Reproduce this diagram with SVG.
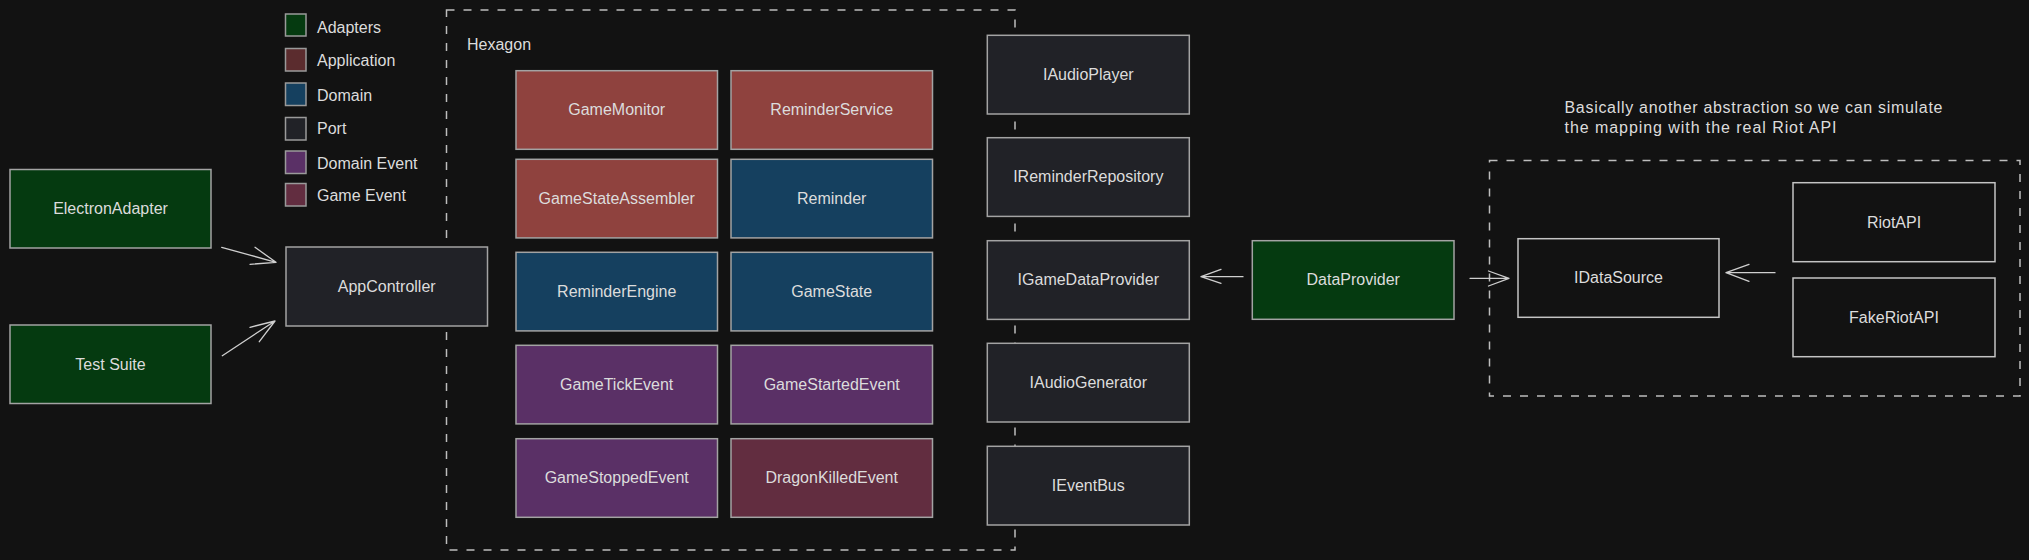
<svg xmlns="http://www.w3.org/2000/svg" width="2029" height="560" viewBox="0 0 2029 560">
<style>
  text { font-family: "Liberation Sans", Arial, sans-serif; font-size: 16px; fill: #dcdcdc; }
  .lbl { text-anchor: middle; }
  .box { stroke: #a3a3a3; stroke-width: 1.5; }
  .adapter { fill: #053a10; }
  .app { fill: #8f423e; }
  .domain { fill: #15405f; }
  .port { fill: #212227; }
  .devent { fill: #5a3066; }
  .gevent { fill: #622d40; }
  .plain { fill: #121212; stroke: #c4c4c4; }
  .sw { stroke: #9a9a9a; stroke-width: 1.5; }
  .dash { fill: none; stroke: #bdbdbd; stroke-width: 1.5; stroke-dasharray: 8 9; }
  .conn { fill: none; stroke: #cfcfcf; stroke-width: 1.3; stroke-linecap: round; stroke-linejoin: round; }
</style>
<rect x="0" y="0" width="2029" height="560" fill="#121212"/>

<g id="legend">
  <rect class="sw adapter" x="285.5" y="14" width="20.5" height="22"/>
  <text x="317" y="32.5">Adapters</text>
  <rect class="sw" fill="#5b2c2e" x="285.5" y="48.5" width="20.5" height="22.5"/>
  <text x="317" y="66">Application</text>
  <rect class="sw domain" x="285.5" y="83" width="20.5" height="22.5"/>
  <text x="317" y="100.5">Domain</text>
  <rect class="sw port" x="285.5" y="117.5" width="20.5" height="22.5"/>
  <text x="317" y="134.3">Port</text>
  <rect class="sw devent" x="285.5" y="151" width="20.5" height="22.5"/>
  <text x="317" y="169">Domain Event</text>
  <rect class="sw gevent" x="285.5" y="183.5" width="20.5" height="22.5"/>
  <text x="317" y="200.7">Game Event</text>
</g>

<g id="hexagon">
  <rect class="dash" x="446.5" y="10" width="568.5" height="540"/>
  <text x="467" y="50">Hexagon</text>
</g>

<g id="datasource-boundary">
  <rect class="dash" x="1489.5" y="160.5" width="530.5" height="235.5"/>
  <text x="1564.5" y="112.7" textLength="378" lengthAdjust="spacing">Basically another abstraction so we can simulate</text>
  <text x="1564.5" y="132.7" textLength="272" lengthAdjust="spacing">the mapping with the real Riot API</text>
</g>

<g id="ElectronAdapter"><rect class="box adapter" x="10" y="169.5" width="201" height="78.5"/><text class="lbl" x="110.5" y="214">ElectronAdapter</text></g>
<g id="TestSuite"><rect class="box adapter" x="10" y="325" width="201" height="78.5"/><text class="lbl" x="110.5" y="369.5">Test Suite</text></g>
<g id="AppController"><rect class="box port" x="286" y="247" width="201.5" height="79"/><text class="lbl" x="386.7" y="291.8">AppController</text></g>

<g id="GameMonitor"><rect class="box app" x="516" y="70.7" width="201.5" height="78.6"/><text class="lbl" x="616.7" y="115.3">GameMonitor</text></g>
<g id="ReminderService"><rect class="box app" x="731" y="70.7" width="201.5" height="78.6"/><text class="lbl" x="831.7" y="115.3">ReminderService</text></g>
<g id="GameStateAssembler"><rect class="box app" x="516" y="159.3" width="201.5" height="78.6"/><text class="lbl" x="616.7" y="203.9">GameStateAssembler</text></g>
<g id="Reminder"><rect class="box domain" x="731" y="159.3" width="201.5" height="78.6"/><text class="lbl" x="831.7" y="203.9">Reminder</text></g>
<g id="ReminderEngine"><rect class="box domain" x="516" y="252.3" width="201.5" height="78.6"/><text class="lbl" x="616.7" y="296.9">ReminderEngine</text></g>
<g id="GameState"><rect class="box domain" x="731" y="252.3" width="201.5" height="78.6"/><text class="lbl" x="831.7" y="296.9">GameState</text></g>
<g id="GameTickEvent"><rect class="box devent" x="516" y="345.3" width="201.5" height="78.6"/><text class="lbl" x="616.7" y="389.9">GameTickEvent</text></g>
<g id="GameStartedEvent"><rect class="box devent" x="731" y="345.3" width="201.5" height="78.6"/><text class="lbl" x="831.7" y="389.9">GameStartedEvent</text></g>
<g id="GameStoppedEvent"><rect class="box devent" x="516" y="438.7" width="201.5" height="78.6"/><text class="lbl" x="616.7" y="483.3">GameStoppedEvent</text></g>
<g id="DragonKilledEvent"><rect class="box gevent" x="731" y="438.7" width="201.5" height="78.6"/><text class="lbl" x="831.7" y="483.3">DragonKilledEvent</text></g>

<g id="IAudioPlayer"><rect class="box port" x="987.3" y="35.3" width="202" height="78.7"/><text class="lbl" x="1088.3" y="80">IAudioPlayer</text></g>
<g id="IReminderRepository"><rect class="box port" x="987.3" y="137.7" width="202" height="78.7"/><text class="lbl" x="1088.3" y="182.4">IReminderRepository</text></g>
<g id="IGameDataProvider"><rect class="box port" x="987.3" y="240.7" width="202" height="78.7"/><text class="lbl" x="1088.3" y="285.4">IGameDataProvider</text></g>
<g id="IAudioGenerator"><rect class="box port" x="987.3" y="343.3" width="202" height="78.7"/><text class="lbl" x="1088.3" y="388">IAudioGenerator</text></g>
<g id="IEventBus"><rect class="box port" x="987.3" y="446.3" width="202" height="78.7"/><text class="lbl" x="1088.3" y="491">IEventBus</text></g>

<g id="DataProvider"><rect class="box adapter" stroke="#c4c4c4" x="1252.3" y="240.7" width="201.7" height="78.6"/><text class="lbl" x="1353.2" y="285.4">DataProvider</text></g>
<g id="IDataSource"><rect class="box plain" x="1518" y="238.7" width="201" height="78.6"/><text class="lbl" x="1618.5" y="283.3">IDataSource</text></g>
<g id="RiotAPI"><rect class="box plain" stroke="#a8a8a8" x="1793" y="182.7" width="202" height="79"/><text class="lbl" x="1894" y="227.5">RiotAPI</text></g>
<g id="FakeRiotAPI"><rect class="box plain" stroke="#a8a8a8" x="1793" y="278" width="202" height="78.7"/><text class="lbl" x="1894" y="322.7">FakeRiotAPI</text></g>

<g id="connectors">
  <path class="conn" d="M221.7,247.3 L276,262.3 M255,247.3 L276,262.3 L250,264.3"/>
  <path class="conn" d="M222.3,355.7 L275,321 M250,327.3 L275,321 L259.3,341.7"/>
  <path class="conn" d="M1243,276.7 L1201,276.7 M1221,269.3 L1201,276.7 L1221,283.3"/>
  <path class="conn" d="M1470,278.3 L1509,278.3 M1488.5,271 L1509,278.3 L1488.5,286"/>
  <path class="conn" d="M1775,272.7 L1726,272.7 M1749,264.3 L1726,272.7 L1749,281.3"/>
</g>
</svg>
